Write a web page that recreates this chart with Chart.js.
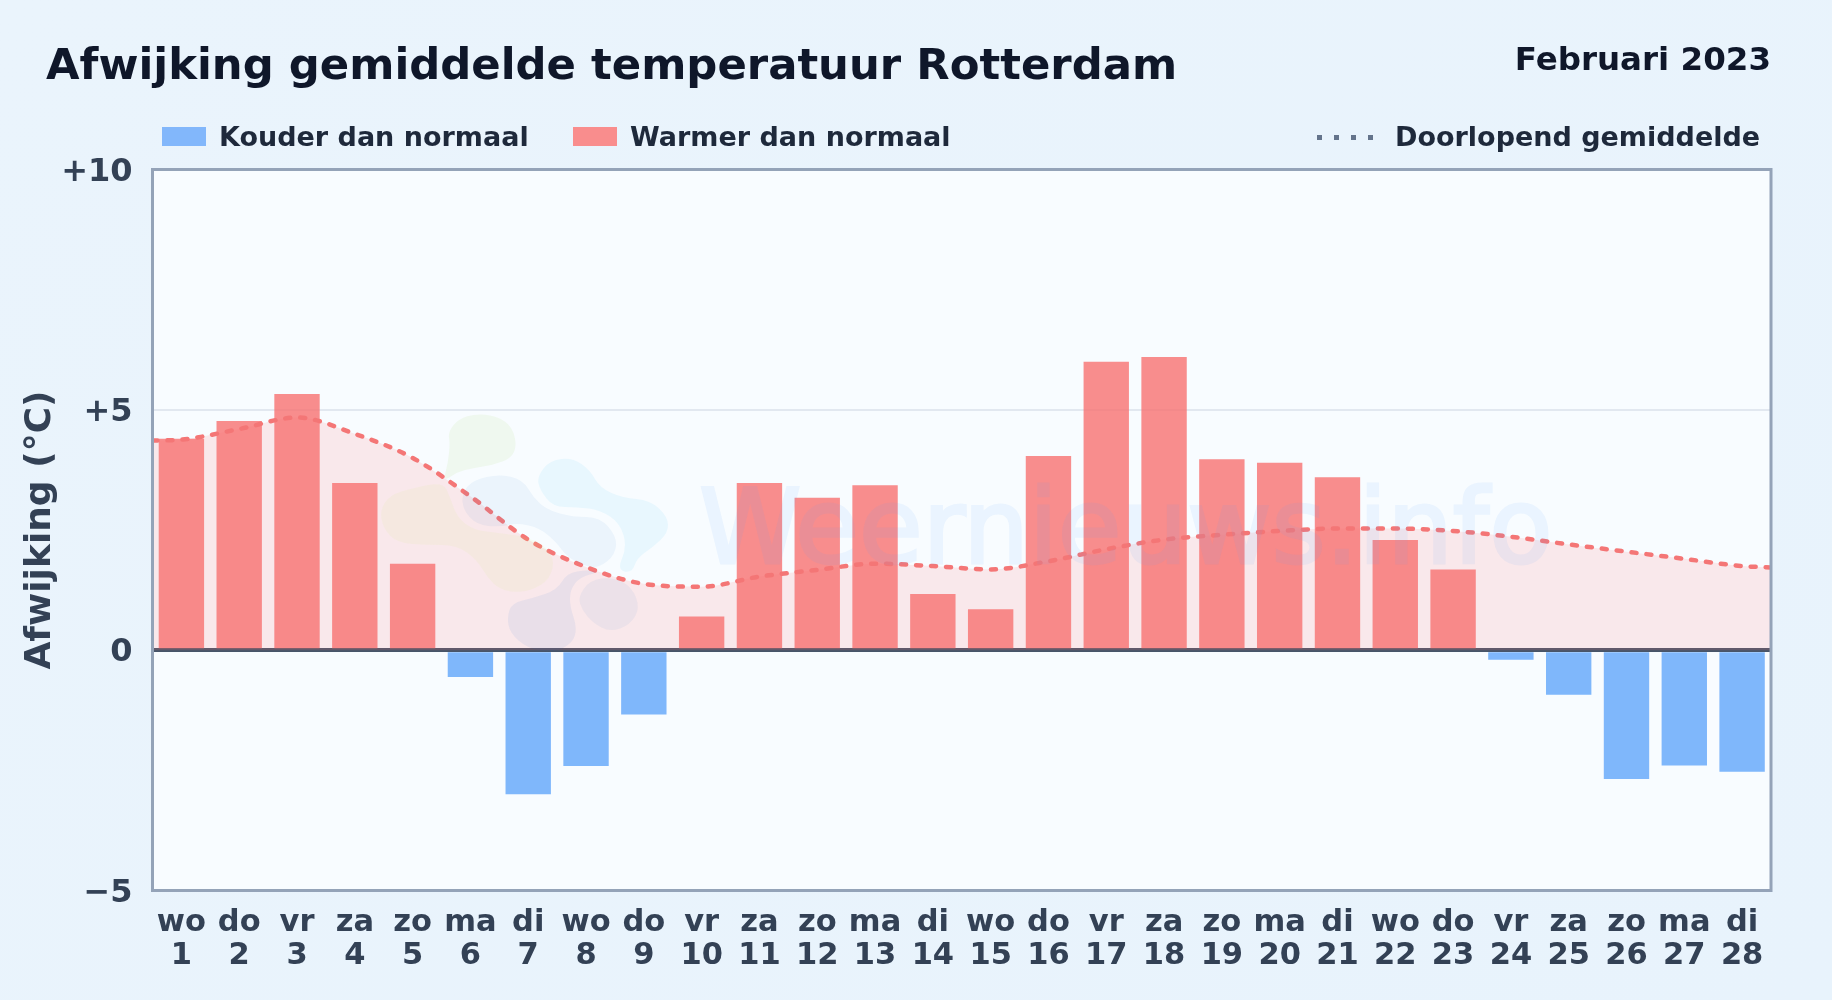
<!DOCTYPE html>
<html lang="nl">
<head>
<meta charset="utf-8">
<title>Afwijking gemiddelde temperatuur Rotterdam</title>
<style>
html,body{margin:0;padding:0;width:1832px;height:1000px;overflow:hidden;background:#e8f3fc;font-family:"DejaVu Sans",sans-serif;font-weight:700}
#wrap{position:relative;width:1832px;height:1000px;background:linear-gradient(135deg,#eaf4fc 0%,#e8f3fc 100%)}
canvas{position:absolute;left:0;top:0}
.t{position:absolute;white-space:nowrap;line-height:1}
#title{left:46px;top:42.5px;font-size:43.35px;color:#0f172a}
#sub{right:61px;top:43px;font-size:32.5px;color:#0f172a}
.lg{top:123px;font-size:27px;color:#1e293b}
.sw{position:absolute;top:127px;height:19px;width:44px}
#dots{position:absolute;left:1317px;top:134.5px;width:56px;height:5px;background:repeating-linear-gradient(90deg,#64748b 0 5px,transparent 5px 17px)}
#wm{position:absolute;left:0;top:0;pointer-events:none}
</style>
</head>
<body>
<div id="wrap">
<canvas id="c" width="1832" height="1000"></canvas>
<svg id="wm" width="1832" height="1000" viewBox="0 0 1832 1000">
  <g id="blobs"></g>
  <text x="699" y="563" fill="#60a5fa" stroke="#60a5fa" stroke-width="3" opacity="0.085" font-family="DejaVu Sans" font-weight="400" font-size="103.5">Weernieuws.info</text>
</svg>
<div id="title" class="t">Afwijking gemiddelde temperatuur Rotterdam</div>
<div id="sub" class="t">Februari 2023</div>
<div class="sw" style="left:162px;background:#82b7fb"></div>
<div class="t lg" style="left:219px">Kouder dan normaal</div>
<div class="sw" style="left:573px;background:#f98d8d"></div>
<div class="t lg" style="left:630px">Warmer dan normaal</div>
<div id="dots"></div>
<div class="t lg" style="left:1395px">Doorlopend gemiddelde</div>
</div>
<script src="https://cdn.jsdelivr.net/npm/chart.js@4"></script>
<script>
const weekdays = ["wo","do","vr","za","zo","ma","di","wo","do","vr","za","zo","ma","di","wo","do","vr","za","zo","ma","di","wo","do","vr","za","zo","ma","di"];
const dayNumbers = ["1","2","3","4","5","6","7","8","9","10","11","12","13","14","15","16","17","18","19","20","21","22","23","24","25","26","27","28"];
const deviation = [4.4,4.77,5.33,3.48,1.8,-0.56,-3.0,-2.41,-1.34,0.7,3.48,3.17,3.43,1.17,0.85,4.04,6.0,6.1,3.97,3.9,3.6,2.29,1.68,-0.2,-0.93,-2.68,-2.4,-2.53];
const runningX = [0.5,1,2,3,4,5,6,7,8,9,10,11,12,13,14,15,16,17,18,19,20,21,22,23,24,25,26,27,28,28.5];
const runningAvg = [4.36,4.38,4.6,4.84,4.5,4.0,3.2,2.3,1.73,1.38,1.32,1.53,1.67,1.8,1.75,1.68,1.85,2.1,2.3,2.4,2.48,2.53,2.53,2.48,2.36,2.2,2.05,1.9,1.75,1.72];

/* decorative watermark logo (not data) */
const blobShapes = [
  ['#84cc16',.07,[[448,432],[460,417],[487,413],[510,423],[517,443],[512,458],[493,465],[473,468],[457,472],[443,482],[448,463],[450,443]]],
  ['#d0f060',.08,[[380,510],[390,495],[413,488],[443,482],[450,497],[457,517],[473,530],[500,533],[527,537],[547,547],[555,563],[547,583],[523,593],[500,590],[487,577],[477,560],[457,545],[427,545],[397,543],[383,528]]],
  ['#1e6fd0',.06,[[462,493],[473,480],[500,474],[523,480],[533,497],[547,510],[573,517],[600,517],[617,537],[615,555],[600,567],[587,567],[567,557],[557,543],[540,528],[517,523],[500,527],[477,525],[463,510]]],
  ['#38bdf8',.08,[[537,477],[550,460],[573,458],[590,470],[600,488],[623,498],[650,500],[668,517],[668,533],[653,547],[637,558],[632,573],[617,570],[627,547],[620,523],[600,510],[577,507],[553,507],[540,490]]],
  ['#1e6fd0',.07,[[507,617],[512,603],[533,598],[557,590],[567,573],[587,570],[600,572],[580,577],[570,590],[570,607],[577,627],[573,643],[553,653],[527,648],[510,633]]],
  ['#1e6fd0',.06,[[578,597],[590,580],[613,577],[632,587],[640,608],[630,625],[610,632],[593,623],[582,610]]]
];
document.getElementById('blobs').innerHTML = blobShapes.map(([col,op,pts])=>{
  const mid=(a,b)=>[(a[0]+b[0])/2,(a[1]+b[1])/2];
  const n=pts.length;let s=mid(pts[n-1],pts[0]);let d='M'+s.join(' ');
  pts.forEach((p,i)=>{const m=mid(p,pts[(i+1)%n]);d+=' Q'+p.join(' ')+' '+m.join(' ');});
  return '<path d="'+d+'Z" fill="'+col+'" opacity="'+op+'"/>';
}).join('');

const labels = weekdays.map((d,i)=>[d,dayNumbers[i]]);
const cold = deviation.map(v=>v<0?v:null);
const warm = deviation.map(v=>v>=0?v:null);
const tickFont = {family:'"DejaVu Sans"',weight:'bold',size:30.5,lineHeight:1.08};

const frame = {
  id:'frame',
  beforeDraw(ch){const {ctx,chartArea:a}=ch;ctx.save();ctx.fillStyle='#f8fcff';ctx.fillRect(a.left,a.top,a.width,a.height);ctx.restore();},
  afterDraw(ch){const {ctx,chartArea:a}=ch;ctx.save();ctx.strokeStyle='#94a3b8';ctx.lineWidth=3;ctx.strokeRect(a.left,a.top,a.width,a.height);ctx.restore();}
};

new Chart(document.getElementById('c'),{
  data:{labels,datasets:[
    {type:'line',label:'Doorlopend gemiddelde',xAxisID:'xLine',order:0,
     data:runningX.map((x,i)=>({x,y:runningAvg[i]})),
     borderColor:'#f47676',borderWidth:4.5,borderDash:[5,10],borderCapStyle:'round',
     backgroundColor:'rgba(252,113,113,0.14)',fill:{target:{value:0}},
     tension:0.4,cubicInterpolationMode:'monotone',pointRadius:0},
    {type:'bar',label:'Kouder dan normaal',order:1,data:cold,grouped:false,backgroundColor:'rgba(96,165,250,0.8)',barPercentage:0.785,categoryPercentage:1},
    {type:'bar',label:'Warmer dan normaal',order:1,data:warm,grouped:false,backgroundColor:'rgba(248,113,113,0.8)',barPercentage:0.785,categoryPercentage:1}
  ]},
  plugins:[frame],
  options:{
    responsive:false,animation:false,devicePixelRatio:1,
    layout:{padding:{top:169.5,right:61,left:0,bottom:0}},
    plugins:{legend:{display:false},tooltip:{enabled:false},filler:{drawTime:'beforeDatasetsDraw'}},
    scales:{
      x:{type:'category',offset:true,grid:{display:false},border:{display:false},
         ticks:{font:tickFont,color:'#334155',padding:8,maxRotation:0,autoSkip:false},
         afterFit(s){s.height=109.5;}},
      xLine:{type:'linear',display:false,min:0.5,max:28.5,offset:false},
      y:{min:-5,max:10,
         afterFit(s){s.width=152.5;},
         ticks:{stepSize:5,font:{family:'"DejaVu Sans"',weight:'bold',size:32},color:'#334155',padding:20,labelOffset:3,
                callback:v=>v>0?'+'+v:(v<0?'\u2212'+(-v):'0')},
         border:{display:false},
         grid:{drawTicks:false,
               color:c=>c.tick.value===0?'#475569':(c.tick.value===5?'#e2e8f0':'transparent'),
               lineWidth:c=>c.tick.value===0?4:2,z:0},
         title:{display:true,text:'Afwijking (\u00b0C)',color:'#334155',
                font:{family:'"DejaVu Sans"',weight:'bold',size:36},padding:{top:19,bottom:0}}}
    }
  }
});
</script>
</body>
</html>
